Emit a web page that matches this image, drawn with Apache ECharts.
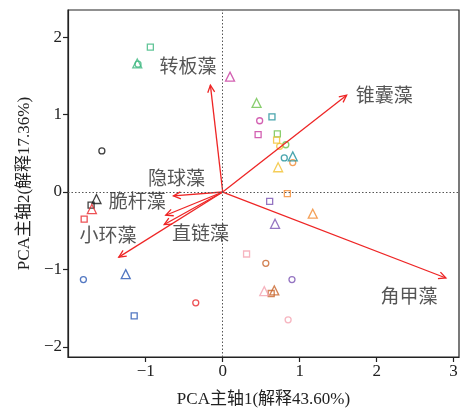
<!DOCTYPE html>
<html>
<head>
<meta charset="utf-8">
<script src="https://cdn.jsdelivr.net/npm/echarts@6/dist/echarts.min.js"></script>
<style>
  html, body { margin: 0; padding: 0; background: #fff; }
  #chart { width: 461px; height: 413px; }
</style>
</head>
<body>
<div id="chart"></div>
<script>
// PCA biplot: phytoplankton loadings (arrows) and sample scores (open symbols)

// Loading vectors (arrow tips) for each taxon
const species = ['转板藻', '锥囊藻', '角甲藻', '隐球藻', '脆杆藻', '直链藻', '小环藻'];
const loadX = [-0.16, 1.61, 2.90, -0.64, -0.74, -0.76, -1.35];
const loadY = [1.38, 1.25, -1.11, -0.05, -0.30, -0.42, -0.84];
// Where each taxon name sits (data units)
const tagX = [-0.45, 2.10, 2.42, -0.60, -1.11, -0.29, -1.49];
const tagY = [1.60, 1.23, -1.37, 0.15, -0.14, -0.55, -0.58];

// Sample scores, one entry per sampling group, split by symbol shape
const circleX   = [-1.10, -1.57, 0.48, 0.82, 0.80, 0.74, 0.91, 0.90, 0.85, 0.56, -0.35, -1.81];
const circleY   = [1.65, 0.53, 0.92, 0.61, 0.44, 0.59, 0.38, -1.13, -1.65, -0.92, -1.43, -1.13];
const squareX   = [-0.94, -1.71, 0.46, 0.71, 0.64, 0.70, 0.84, 0.61, 0.31, 0.63, -1.80, -1.15];
const squareY   = [1.87, -0.17, 0.74, 0.75, 0.97, 0.67, -0.02, -0.12, -0.80, -1.31, -0.35, -1.60];
const triangleX = [-1.11, -1.64, 0.095, 0.44, 0.91, 0.72, 1.17, 0.68, 0.54, 0.67, -1.70, -1.26];
const triangleY = [1.66, -0.09, 1.49, 1.15, 0.46, 0.32, -0.28, -0.41, -1.28, -1.27, -0.22, -1.06];

// Axis ticks
const xTicks = [-1, 0, 1, 2, 3];
const yTicks = [-2, -1, 0, 1, 2];

// Group colours (same order as the score arrays)
const palette = ['#3bb77e', '#111111', '#c8399f', '#6cc24a', '#1b8f98', '#f2c12e',
                 '#f28a30', '#7a52b3', '#f4a3b0', '#c8642a', '#e8262b', '#2856b3'];

const serif = '"Liberation Serif", "Noto Sans CJK SC", serif';
const minus = v => String(v).replace('-', '\u2212');

function scoreSeries(xs, ys, symbol, size) {
  return {
    type: 'scatter',
    symbol: symbol,
    symbolSize: size,
    z: 3,
    data: xs.map((x, i) => ({
      value: [x, ys[i]],
      itemStyle: { color: 'rgba(0,0,0,0)', borderColor: palette[i], borderWidth: 1.3 }
    }))
  };
}

const chart = echarts.init(document.getElementById('chart'), null, { renderer: 'canvas' });

chart.setOption({
  animation: false,
  backgroundColor: '#fff',
  grid: {
    left: 68, right: 2, top: 10, bottom: 56,
    show: true, borderColor: '#222', borderWidth: 1.2, backgroundColor: 'transparent'
  },
  xAxis: {
    type: 'value', min: -2.01, max: 3.07,
    name: 'PCA主轴1(解释43.60%)', nameLocation: 'middle', nameGap: 34,
    nameTextStyle: { fontFamily: serif, fontSize: 17, color: '#222' },
    axisLine: { show: true, onZero: false, lineStyle: { color: '#222', width: 1.2 } },
    axisTick: { show: true, inside: false, length: 5, customValues: xTicks, lineStyle: { color: '#222', width: 1.2 } },
    axisLabel: { customValues: xTicks, formatter: minus, fontFamily: serif, fontSize: 17, color: '#222', margin: 6 },
    splitLine: { show: false }
  },
  yAxis: {
    type: 'value', min: -2.13, max: 2.35,
    name: 'PCA主轴2(解释17.36%)', nameLocation: 'middle', nameGap: 34, nameRotate: 90,
    nameTextStyle: { fontFamily: serif, fontSize: 17, color: '#222' },
    axisLine: { show: true, onZero: false, lineStyle: { color: '#222', width: 1.2 } },
    axisTick: { show: true, inside: false, length: 5, customValues: yTicks, lineStyle: { color: '#222', width: 1.2 } },
    axisLabel: { customValues: yTicks, formatter: minus, fontFamily: serif, fontSize: 17, color: '#222', margin: 6 },
    splitLine: { show: false }
  },
  series: [
    {
      // dotted reference lines through the origin
      type: 'scatter', data: [], z: 1,
      markLine: {
        silent: true, symbol: 'none', label: { show: false },
        lineStyle: { type: [1.5, 2], color: '#555', width: 1 },
        data: [{ xAxis: 0 }, { yAxis: 0 }]
      }
    },
    {
      // loading arrows with open heads
      type: 'custom', z: 4,
      data: loadX.map((x, i) => [x, loadY[i]]),
      renderItem: function (params, api) {
        const p0 = api.coord([0, 0]);
        const p1 = api.coord([api.value(0), api.value(1)]);
        const ang = Math.atan2(p1[1] - p0[1], p1[0] - p0[0]);
        const L = 8, spread = Math.PI / 7;
        const a = [p1[0] - L * Math.cos(ang - spread), p1[1] - L * Math.sin(ang - spread)];
        const b = [p1[0] - L * Math.cos(ang + spread), p1[1] - L * Math.sin(ang + spread)];
        const st = { stroke: '#ee2525', lineWidth: 1.3, fill: null };
        return {
          type: 'group',
          children: [
            { type: 'line', shape: { x1: p0[0], y1: p0[1], x2: p1[0], y2: p1[1] }, style: st },
            { type: 'polyline', shape: { points: [a, p1, b] }, style: st }
          ]
        };
      }
    },
    scoreSeries(circleX, circleY, 'circle', 6),
    scoreSeries(squareX, squareY, 'rect', 6),
    scoreSeries(triangleX, triangleY, 'triangle', 9),
    {
      // taxon names
      type: 'scatter', symbolSize: 0, z: 5,
      data: species.map((s, i) => ({ name: s, value: [tagX[i], tagY[i]] })),
      label: {
        show: true, position: 'inside', formatter: '{b}',
        fontFamily: serif, fontSize: 19, color: '#2a2a2a'
      }
    }
  ]
});
</script>
</body>
</html>
